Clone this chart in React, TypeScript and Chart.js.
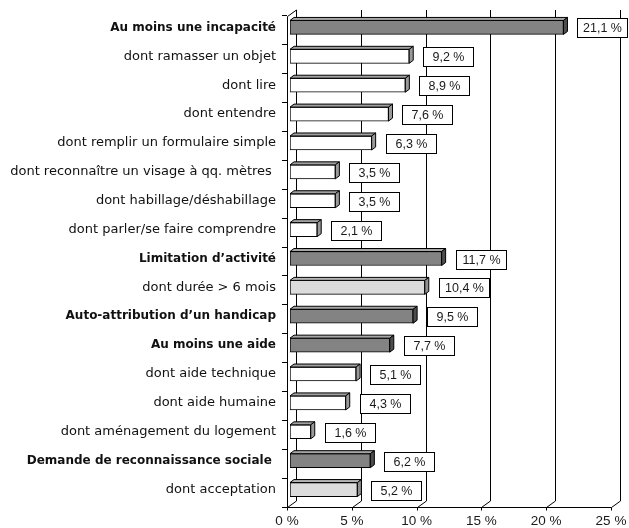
import React, { useEffect, useRef } from "react";
import { Chart, registerables } from "chart.js";

Chart.register(...registerables);

const categories = [
  "Au moins une incapacité",
  "dont ramasser un objet",
  "dont lire",
  "dont entendre",
  "dont remplir un formulaire simple",
  "dont reconnaître un visage à qq. mètres ",
  "dont habillage/déshabillage",
  "dont parler/se faire comprendre",
  "Limitation d’activité",
  "dont durée > 6 mois",
  "Auto-attribution d’un handicap",
  "Au moins une aide",
  "dont aide technique",
  "dont aide humaine",
  "dont aménagement du logement",
  "Demande de reconnaissance sociale ",
  "dont acceptation",
];

const values = [21.1, 9.2, 8.9, 7.6, 6.3, 3.5, 3.5, 2.1, 11.7, 10.4, 9.5, 7.7, 5.1, 4.3, 1.6, 6.2, 5.2];

// "main" = headline indicator (bold, dark bar), "sub" = detail (white bar), "light" = detail (light grey bar)
const barKinds = ["main", "sub", "sub", "sub", "sub", "sub", "sub", "sub", "main", "light", "main", "main", "sub", "sub", "sub", "main", "light"];

const xTicks = [0, 5, 10, 15, 20, 25];

const palette: Record<string, { front: string; top: string; side: string }> = {
  main: { front: "#838383", top: "#a6a6a6", side: "#4d4d4d" },
  sub: { front: "#ffffff", top: "#a0a0a0", side: "#9a9a9a" },
  light: { front: "#dcdcdc", top: "#b4b4b4", side: "#909090" },
};

const WALL_DX = 9;
const WALL_DY = -6.5;
const BAR_SHIFT_X = 3;
const BAR_SHIFT_Y = -3;
const BAR_DX = 4;
const BAR_DY = -3;

const fmt = (v: number) => v.toFixed(1).replace(".", ",") + " %";

const fake3d = {
  id: "fake3d",
  beforeDatasetsDraw(chart: any) {
    const { ctx, chartArea: a, scales } = chart;
    const x = scales.x;
    ctx.save();
    ctx.strokeStyle = "#000";
    ctx.lineWidth = 1;
    ctx.beginPath();
    const bottom = Math.round(a.bottom) + 0.5;
    const top = Math.round(a.top) + 0.5;
    for (const v of xTicks) {
      const px = Math.round(x.getPixelForValue(v)) + 0.5;
      ctx.moveTo(px + WALL_DX, top + WALL_DY);
      ctx.lineTo(px + WALL_DX, bottom + WALL_DY);
      ctx.lineTo(px, bottom);
      ctx.moveTo(px, bottom);
      ctx.lineTo(px, bottom + 3);
    }
    const l = Math.round(x.getPixelForValue(xTicks[0])) + 0.5;
    const r = Math.round(x.getPixelForValue(xTicks[xTicks.length - 1])) + 0.5;
    ctx.moveTo(l, bottom);
    ctx.lineTo(r, bottom);
    ctx.moveTo(l, bottom);
    ctx.lineTo(l, top);
    ctx.lineTo(l + WALL_DX, top + WALL_DY);
    ctx.stroke();
    ctx.restore();
    ctx.save();
    ctx.translate(BAR_SHIFT_X, BAR_SHIFT_Y);
  },
  afterDatasetsDraw(chart: any) {
    const { ctx } = chart;
    const meta = chart.getDatasetMeta(0);
    ctx.lineWidth = 1;
    ctx.strokeStyle = "#000";
    meta.data.forEach((el: any, i: number) => {
      const { x: xe, y, base, height } = el.getProps(["x", "y", "base", "height"], true);
      const t = y - height / 2;
      const b = y + height / 2;
      const p = palette[barKinds[i]];
      ctx.beginPath();
      ctx.moveTo(base, t);
      ctx.lineTo(base + BAR_DX, t + BAR_DY);
      ctx.lineTo(xe + BAR_DX, t + BAR_DY);
      ctx.lineTo(xe, t);
      ctx.closePath();
      ctx.fillStyle = p.top;
      ctx.fill();
      ctx.stroke();
      ctx.beginPath();
      ctx.moveTo(xe, t);
      ctx.lineTo(xe + BAR_DX, t + BAR_DY);
      ctx.lineTo(xe + BAR_DX, b + BAR_DY);
      ctx.lineTo(xe, b);
      ctx.closePath();
      ctx.fillStyle = p.side;
      ctx.fill();
      ctx.stroke();
    });
    ctx.restore();

    ctx.save();
    ctx.font = "12.5px 'Liberation Sans', Arial, sans-serif";
    ctx.textAlign = "center";
    ctx.textBaseline = "middle";
    meta.data.forEach((el: any, i: number) => {
      const { x: xe, y } = el.getProps(["x", "y"], true);
      const endX = xe + BAR_SHIFT_X + BAR_DX;
      const cy = y + BAR_SHIFT_Y + 0.5;
      const w = 50;
      const h = 19;
      const bx = Math.min(Math.round(endX + 10), 629 - w - 1) + 0.5;
      const by = Math.round(cy - h / 2) + 0.5;
      ctx.fillStyle = "#fff";
      ctx.fillRect(bx, by, w, h);
      ctx.strokeStyle = "#000";
      ctx.lineWidth = 1;
      ctx.strokeRect(bx, by, w, h);
      ctx.fillStyle = "#1a1a1a";
      ctx.fillText(fmt(values[i]), bx + w / 2, by + h / 2 + 0.5);
    });
    ctx.restore();
  },
};

export default function App() {
  const ref = useRef<HTMLCanvasElement | null>(null);

  useEffect(() => {
    if (!ref.current) return;
    const chart = new Chart(ref.current, {
      type: "bar",
      data: {
        labels: categories,
        datasets: [
          {
            data: values,
            backgroundColor: barKinds.map((k) => palette[k].front),
            borderColor: "#000",
            borderWidth: 1,
            borderSkipped: false,
            barThickness: 14,
          },
        ],
      },
      options: {
        indexAxis: "y",
        responsive: false,
        animation: false,
        layout: { padding: { top: 16, right: 18, left: 0, bottom: 0 } },
        plugins: { legend: { display: false }, tooltip: { enabled: false } },
        scales: {
          x: {
            type: "linear",
            min: xTicks[0],
            max: xTicks[xTicks.length - 1],
            afterBuildTicks: (scale: any) => {
              scale.ticks = xTicks.map((v) => ({ value: v }));
            },
            afterFit: (scale: any) => {
              scale.height = 21;
              scale.paddingRight = 0;
              scale.paddingLeft = 0;
            },
            grid: { display: false, drawTicks: false },
            border: { display: false },
            ticks: {
              padding: 6,
              color: "#1a1a1a",
              font: { family: "'Liberation Sans', Arial, sans-serif", size: 13.5 },
              callback: (v: any) => v + " %",
              maxRotation: 0,
            },
          },
          y: {
            type: "category",
            afterFit: (scale: any) => {
              scale.width = 287;
            },
            grid: {
              display: true,
              drawOnChartArea: false,
              drawTicks: true,
              tickLength: 5,
              color: "#000",
              offset: true,
            },
            border: { display: false },
            ticks: {
              padding: 6,
              labelOffset: -3,
              color: "#111",
              autoSkip: false,
              font: (c: any) =>
                barKinds[c.index] === "main"
                  ? { family: "'DejaVu Sans', sans-serif", size: 12, weight: "bold" }
                  : { family: "'DejaVu Sans', sans-serif", size: 13 },
            },
          },
        },
      },
      plugins: [fake3d],
    });
    return () => chart.destroy();
  }, []);

  return (
    <div style={{ position: "absolute", left: 0, top: 0, width: 629, height: 528, background: "#fff" }}>
      <canvas ref={ref} width={629} height={528} style={{ display: "block" }} />
    </div>
  );
}
